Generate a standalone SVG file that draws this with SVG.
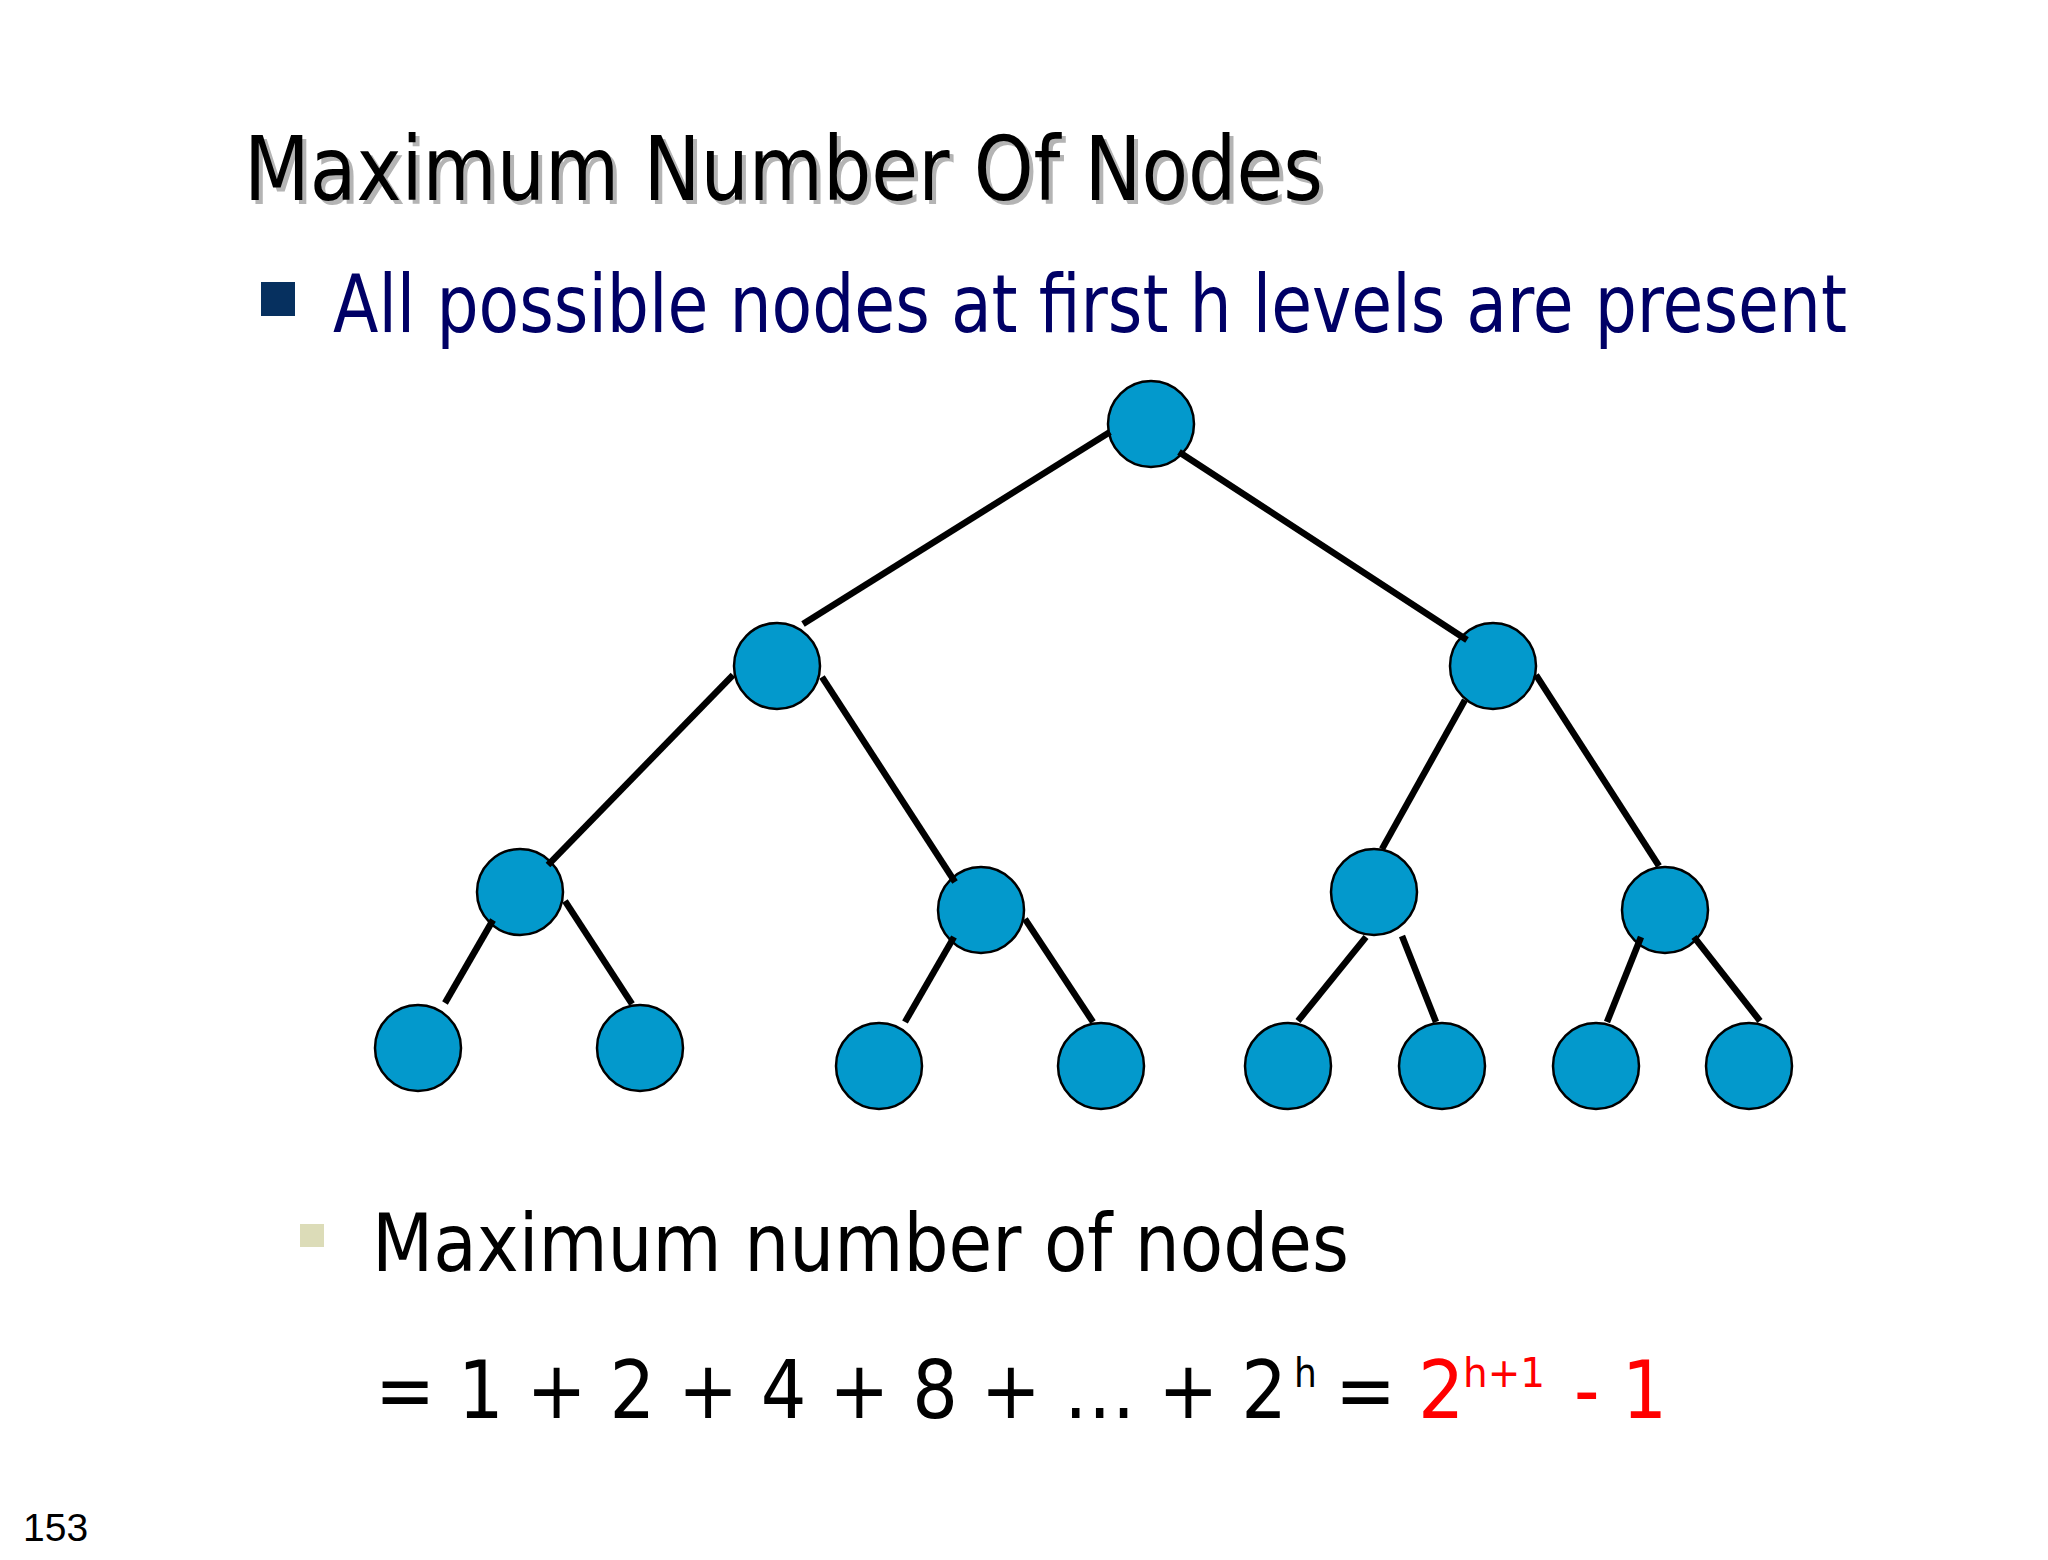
<svg xmlns="http://www.w3.org/2000/svg" width="2048" height="1560" viewBox="0 0 2048 1560">
<style>
.t{font-family:"DejaVu Sans Condensed","DejaVu Sans",sans-serif;}
.node{fill:#0399CC;stroke:#000;stroke-width:2.5;}
.edge{stroke:#000;stroke-width:6.5;stroke-linecap:butt;fill:none;}
</style>
<rect width="2048" height="1560" fill="#ffffff"/>
<g id="title">
<text class="t" x="248" y="204" font-size="89" fill="#b4b4b4" textLength="1079" lengthAdjust="spacingAndGlyphs">Maximum Number Of Nodes</text>
<text class="t" x="244" y="200" font-size="89" fill="#000" textLength="1079" lengthAdjust="spacingAndGlyphs">Maximum Number Of Nodes</text>
</g>
<g id="bullet1">
<rect x="261" y="282" width="34" height="34" fill="#06305f"/>
<text class="t" x="333" y="332" font-size="81" fill="#000066" textLength="1514" lengthAdjust="spacingAndGlyphs">All possible nodes at first h levels are present</text>
</g>
<g id="nodes">
<g id="n0"><circle class="node" cx="1151" cy="424" r="43"/></g>
<g id="n1"><circle class="node" cx="777" cy="666" r="43"/></g>
<g id="n2"><circle class="node" cx="1493" cy="666" r="43"/></g>
<g id="n3"><circle class="node" cx="520" cy="892" r="43"/></g>
<g id="n4"><circle class="node" cx="981" cy="910" r="43"/></g>
<g id="n5"><circle class="node" cx="1374" cy="892" r="43"/></g>
<g id="n6"><circle class="node" cx="1665" cy="910" r="43"/></g>
<g id="n7"><circle class="node" cx="418" cy="1048" r="43"/></g>
<g id="n8"><circle class="node" cx="640" cy="1048" r="43"/></g>
<g id="n9"><circle class="node" cx="879" cy="1066" r="43"/></g>
<g id="n10"><circle class="node" cx="1101" cy="1066" r="43"/></g>
<g id="n11"><circle class="node" cx="1288" cy="1066" r="43"/></g>
<g id="n12"><circle class="node" cx="1442" cy="1066" r="43"/></g>
<g id="n13"><circle class="node" cx="1596" cy="1066" r="43"/></g>
<g id="n14"><circle class="node" cx="1749" cy="1066" r="43"/></g>
</g>
<g id="connectors">
<line class="edge" x1="1110" y1="432" x2="803" y2="624"/>
<line class="edge" x1="1179" y1="452" x2="1467" y2="640"/>
<line class="edge" x1="733" y1="675" x2="548" y2="865"/>
<line class="edge" x1="822" y1="677" x2="955" y2="882"/>
<line class="edge" x1="1465" y1="700" x2="1382" y2="849"/>
<line class="edge" x1="1536" y1="675" x2="1659" y2="866"/>
<line class="edge" x1="493" y1="920" x2="445" y2="1003"/>
<line class="edge" x1="565" y1="901" x2="632" y2="1004"/>
<line class="edge" x1="954" y1="937" x2="905" y2="1022"/>
<line class="edge" x1="1025" y1="919" x2="1093" y2="1022"/>
<line class="edge" x1="1366" y1="937" x2="1298" y2="1021"/>
<line class="edge" x1="1402" y1="936" x2="1436" y2="1022"/>
<line class="edge" x1="1641" y1="937" x2="1607" y2="1022"/>
<line class="edge" x1="1694" y1="937" x2="1760" y2="1021"/>
</g>
<g id="bullet2">
<rect x="300" y="1224" width="24" height="23" fill="#dcdcb8"/>
<text class="t" x="372" y="1271" font-size="81" fill="#000" textLength="977" lengthAdjust="spacingAndGlyphs">Maximum number of nodes</text>
</g>
<g id="formula">
<text class="t" x="375" y="1418" font-size="81" fill="#000" textLength="912" lengthAdjust="spacingAndGlyphs">= 1 + 2 + 4 + 8 + … + 2</text>
<text class="t" x="1294" y="1387" font-size="40" fill="#000">h</text>
<text class="t" x="1335" y="1418" font-size="81" fill="#000">=</text>
<text class="t" x="1418" y="1418" font-size="81" fill="#ff0000">2</text>
<text class="t" x="1463" y="1387" font-size="40" fill="#ff0000" textLength="82" lengthAdjust="spacingAndGlyphs">h+1</text>
<text class="t" x="1574" y="1418" font-size="81" fill="#ff0000" textLength="93" lengthAdjust="spacingAndGlyphs">- 1</text>
</g>
<text x="23" y="1541" font-family="Liberation Sans, Arial, sans-serif" font-size="39" fill="#000">153</text>
</svg>
